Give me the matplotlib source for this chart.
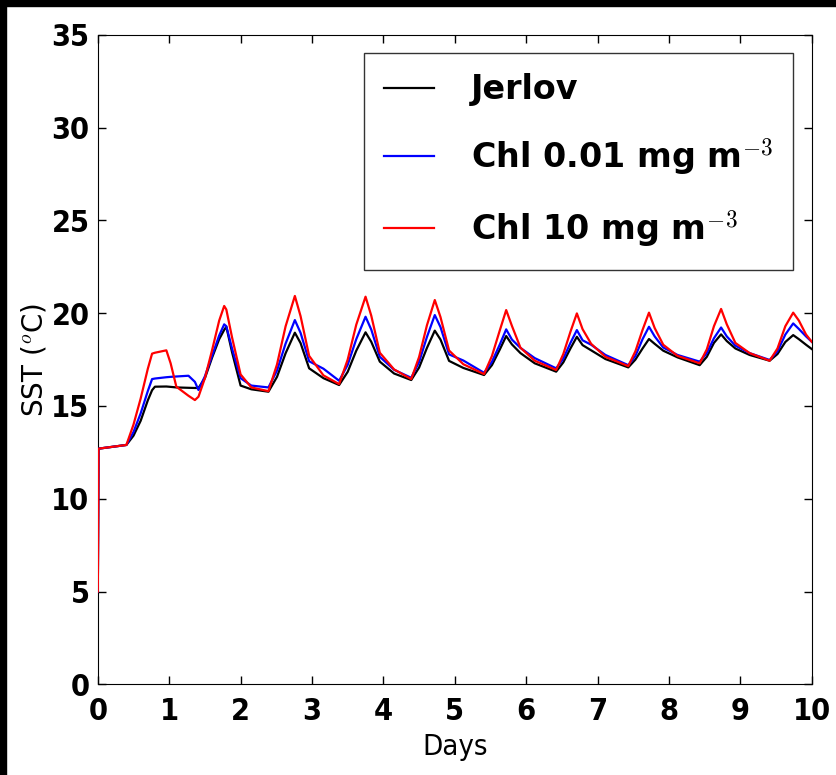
import matplotlib
matplotlib.use("Agg")
import matplotlib.pyplot as plt
from matplotlib.patches import Rectangle

plt.rcParams["mathtext.fontset"] = "cm"

# time axis (days), shared by the three runs
days = [0.00, 0.01, 0.40, 0.50, 0.60, 0.70, 0.76, 0.80, 0.96, 1.02, 1.10,
        1.27, 1.36, 1.41, 1.50, 1.60, 1.70, 1.77, 1.80, 1.88, 2.00, 2.15,
        2.39, 2.51, 2.63, 2.76, 2.84, 2.96, 3.16,
        3.38, 3.50, 3.62, 3.75, 3.83, 3.95, 4.15,
        4.39, 4.50, 4.61, 4.72, 4.80, 4.92, 5.12,
        5.41, 5.52, 5.63, 5.72, 5.80, 5.92, 6.12,
        6.42, 6.52, 6.62, 6.71, 6.79, 6.91, 7.11,
        7.43, 7.53, 7.63, 7.72, 7.80, 7.92, 8.12,
        8.43, 8.53, 8.63, 8.73, 8.81, 8.93, 9.13,
        9.41, 9.52, 9.63, 9.74, 9.82, 9.92, 10.0]

sst_jerlov = [5.0, 12.7, 12.9, 13.4, 14.2, 15.3, 15.85, 16.04, 16.05, 16.03, 16.0,
              15.98, 15.97, 15.97, 16.5, 17.6, 18.6, 19.1, 19.27, 17.9, 16.1, 15.9,
              15.77, 16.57, 17.84, 18.95, 18.39, 17.03, 16.50,
              16.13, 16.84, 17.98, 18.97, 18.46, 17.39, 16.75,
              16.40, 17.07, 18.13, 19.06, 18.58, 17.43, 17.05,
              16.67, 17.20, 18.04, 18.77, 18.32, 17.85, 17.30,
              16.85, 17.35, 18.10, 18.73, 18.28, 18.00, 17.53,
              17.08, 17.50, 18.10, 18.61, 18.35, 17.98, 17.62,
              17.20, 17.65, 18.40, 18.86, 18.50, 18.10, 17.75,
              17.44, 17.80, 18.45, 18.82, 18.60, 18.30, 18.07]

sst_chl001 = [5.0, 12.7, 12.9, 13.6, 14.6, 15.8, 16.45, 16.48, 16.55, 16.57, 16.59,
              16.63, 16.3, 15.86, 16.6, 17.7, 18.8, 19.4, 19.3, 18.1, 16.5, 16.1,
              16.0, 16.91, 18.36, 19.63, 18.94, 17.41, 17.01,
              16.36, 17.22, 18.60, 19.81, 19.12, 17.65, 16.95,
              16.52, 17.37, 18.72, 19.90, 19.25, 17.78, 17.45,
              16.79, 17.38, 18.31, 19.13, 18.58, 18.13, 17.58,
              17.03, 17.55, 18.40, 19.09, 18.54, 18.30, 17.75,
              17.20, 17.70, 18.60, 19.27, 18.75, 18.15, 17.75,
              17.39, 17.85, 18.65, 19.23, 18.75, 18.25, 17.85,
              17.48, 17.95, 18.85, 19.45, 19.15, 18.75, 18.46]

sst_chl10 = [5.0, 12.7, 12.9, 14.0, 15.4, 17.0, 17.82, 17.87, 18.0, 17.3, 16.04,
             15.55, 15.32, 15.5, 16.5, 18.0, 19.6, 20.39, 20.2, 18.7, 16.7, 16.0,
             15.8, 17.24, 19.29, 20.93, 19.84, 17.70, 16.65,
             16.18, 17.50, 19.38, 20.89, 19.87, 17.87, 16.97,
             16.45, 17.64, 19.35, 20.71, 19.79, 17.99, 17.25,
             16.72, 17.69, 19.07, 20.17, 19.32, 18.14, 17.44,
             16.94, 17.80, 19.00, 19.99, 19.14, 18.35, 17.65,
             17.15, 17.95, 19.10, 20.03, 19.20, 18.30, 17.70,
             17.30, 18.05, 19.30, 20.23, 19.40, 18.40, 17.85,
             17.44, 18.10, 19.30, 20.03, 19.60, 18.85, 18.46]

labels = ["Jerlov", "Chl 0.01 mg m$^{-3}$", "Chl 10 mg m$^{-3}$"]

fig = plt.figure(figsize=(8.36, 7.75), dpi=100)
ax = fig.add_axes([0.117, 0.117, 0.854, 0.838])

# lines above the spines so the jump at day 0 shows, as in the original
ax.plot(days, sst_jerlov, color="k", lw=1.6, label=labels[0], zorder=3)
ax.plot(days, sst_chl001, color="b", lw=1.6, label=labels[1], zorder=3)
ax.plot(days, sst_chl10, color="r", lw=1.6, label=labels[2], zorder=3)

ax.set_xlim(0, 10)
ax.set_ylim(0, 35)
ax.set_xticks(range(0, 11))
ax.set_yticks(range(0, 36, 5))
ax.tick_params(direction="in", top=True, right=True, length=6, width=1)
ax.tick_params(axis="x", pad=9)
ax.tick_params(axis="y", pad=6)
for lab in ax.get_xticklabels() + ax.get_yticklabels():
    lab.set_fontsize(22)
    lab.set_fontweight("bold")
    lab.set_fontstretch("condensed")

ax.set_xlabel("Days", fontsize=21, labelpad=5, fontstretch="condensed")
ax.set_ylabel("SST ($^o$C)", fontsize=20, labelpad=2)

leg = ax.legend(loc="upper right", prop={"size": 24, "weight": "bold"},
                handlelength=1.5, handletextpad=1.1, borderpad=0.6,
                labelspacing=0.9, borderaxespad=0.55, fancybox=False)
leg.get_frame().set_edgecolor("k")
leg.get_frame().set_linewidth(1)
leg.set_zorder(5)

# black bands on the top and left edges of the original image
fig.patches.append(Rectangle((0, 1 - 6 / 775), 1, 6 / 775, transform=fig.transFigure,
                             color="k", zorder=10))
fig.patches.append(Rectangle((0, 0), 6 / 836, 1, transform=fig.transFigure,
                             color="k", zorder=10))

fig.savefig("out.png", dpi=100)
